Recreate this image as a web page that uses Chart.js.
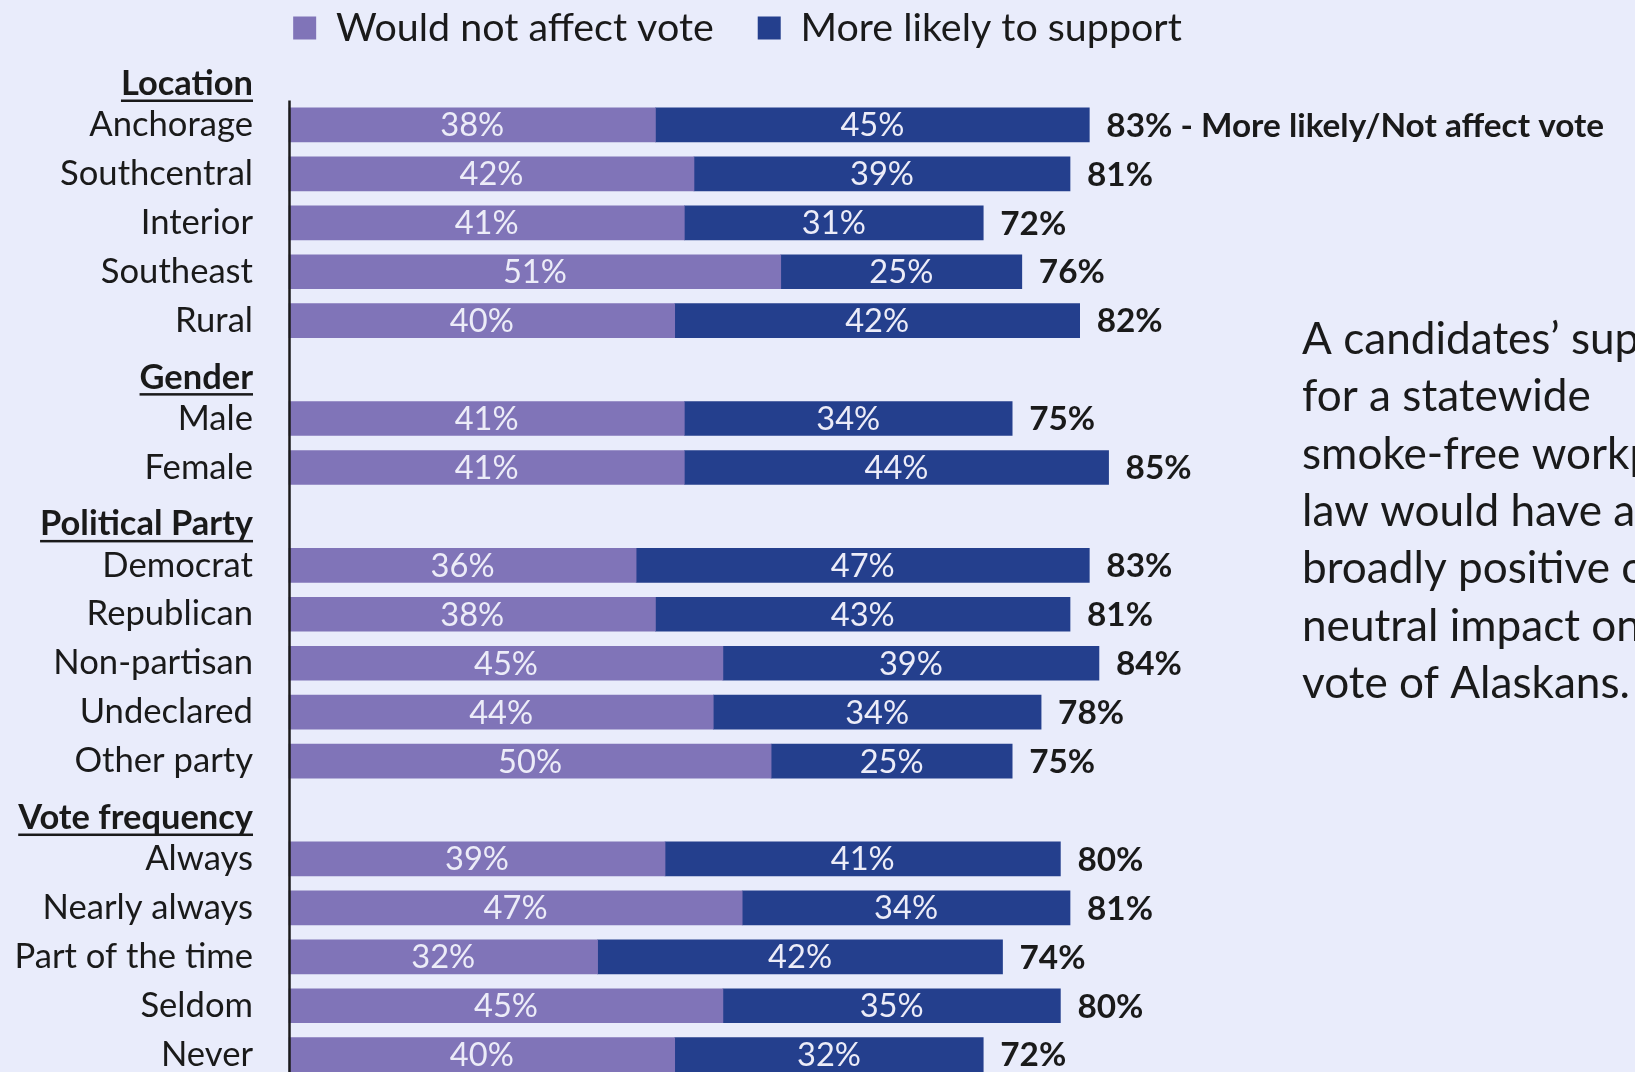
<!DOCTYPE html>
<html>
<head>
<meta charset="utf-8">
<script src="https://cdn.jsdelivr.net/npm/chart.js@4.4.1/dist/chart.umd.min.js"></script>
<style>
  html, body { margin: 0; padding: 0; background: #E9ECFB; overflow: hidden; }
  #wrap { position: relative; width: 1635px; height: 1072px; }
</style>
</head>
<body>
<div id="wrap"><canvas id="c"></canvas></div>
<script>
// ---- data ----
const categories = ['Location', 'Anchorage', 'Southcentral', 'Interior', 'Southeast', 'Rural',
  'Gender', 'Male', 'Female',
  'Political Party', 'Democrat', 'Republican', 'Non-partisan', 'Undeclared', 'Other party',
  'Vote frequency', 'Always', 'Nearly always', 'Part of the time', 'Seldom', 'Never'];
const groupHeaders = ['Location', 'Gender', 'Political Party', 'Vote frequency'];
const wouldNotAffect = [null, 38, 42, 41, 51, 40, null, 41, 41, null, 36, 38, 45, 44, 50, null, 39, 47, 32, 45, 40];
const moreLikely     = [null, 45, 39, 31, 25, 42, null, 34, 44, null, 47, 43, 39, 34, 25, null, 41, 34, 42, 35, 32];
const totals         = [null, 83, 81, 72, 76, 82, null, 75, 85, null, 83, 81, 84, 78, 75, null, 80, 81, 74, 80, 72];
const seriesNames = ['Would not affect vote', 'More likely to support'];
const firstTotalNote = ' - More likely/Not affect vote';
const sideText = ['A candidates\u2019 support', 'for a statewide', 'smoke-free workplace',
  'law would have a', 'broadly positive or', 'neutral impact on the', 'vote of Alaskans.'];
const xMax = 123;

// ---- styling ----
const FAMILY = 'Lato';
const COL_LIGHT = '#8074B8';
const COL_DARK = '#243F8D';
const TEXT = '#1a1a1a';

const mctx = document.createElement('canvas').getContext('2d');
function fit(text, weight, target) {
  mctx.font = weight + ' 100px ' + FAMILY;
  return 100 * target / mctx.measureText(text).width;
}
const tickSize   = fit('Southcentral', 'normal', 193);
const headSize   = fit('Political Party', 'bold', 213);
const legendSize = fit('Would not affect vote', 'normal', 378);
const innerSize  = fit('38%', 'normal', 64);
const totalSize  = fit('85%', 'bold', 66);
const sideSize   = fit('vote of Alaskans.', 'normal', 328);

const LEG_PAD = 44;
const padTop = 28 - LEG_PAD - legendSize / 2;
const topAxisH = 38 - legendSize / 2;

const overlay = {
  id: 'overlay',
  afterDatasetsDraw(chart) {
    const { ctx, chartArea, scales: { y } } = chart;
    ctx.save();
    // inner segment labels
    ctx.textAlign = 'center';
    ctx.textBaseline = 'middle';
    ctx.fillStyle = '#ECECF8';
    ctx.font = 'normal ' + innerSize + 'px ' + FAMILY;
    chart.data.datasets.forEach((ds, di) => {
      const meta = chart.getDatasetMeta(di);
      meta.data.forEach((bar, i) => {
        const v = ds.data[i];
        if (v === null || v === undefined) return;
        ctx.fillText(v + '%', (bar.base + bar.x) / 2, bar.y + 1);
      });
    });
    // totals
    ctx.textAlign = 'left';
    ctx.fillStyle = TEXT;
    ctx.font = 'bold ' + totalSize + 'px ' + FAMILY;
    const lastMeta = chart.getDatasetMeta(chart.data.datasets.length - 1);
    lastMeta.data.forEach((bar, i) => {
      if (totals[i] === null) return;
      let s = totals[i] + '%';
      if (i === 1) s += firstTotalNote;
      ctx.fillText(s, bar.x + 17, bar.y + 1);
    });
    // axis line
    ctx.strokeStyle = '#1b1b1b';
    ctx.lineWidth = 2.5;
    ctx.beginPath();
    ctx.moveTo(chartArea.left + 0.5, y.getPixelForValue(0.5));
    ctx.lineTo(chartArea.left + 0.5, chart.height);
    ctx.stroke();
    // group headers (bold, underlined)
    ctx.font = 'bold ' + headSize + 'px ' + FAMILY;
    ctx.textAlign = 'right';
    ctx.textBaseline = 'alphabetic';
    ctx.fillStyle = TEXT;
    const hx = chartArea.left - 36;
    categories.forEach((c, i) => {
      if (!groupHeaders.includes(c)) return;
      const by = y.getPixelForValue(i) + 19;
      ctx.fillText(c, hx, by);
      const w = ctx.measureText(c).width;
      ctx.fillRect(hx - w, by + 4.5, w, 2.5);
    });
    // side note
    ctx.font = 'normal ' + sideSize + 'px ' + FAMILY;
    ctx.textAlign = 'left';
    sideText.forEach((line, k) => {
      ctx.fillText(line, 1302, 354 + k * 57.3);
    });
    ctx.restore();
  }
};

new Chart(document.getElementById('c'), {
  type: 'bar',
  data: {
    labels: categories,
    datasets: [
      { label: seriesNames[0], data: wouldNotAffect, backgroundColor: COL_LIGHT, borderWidth: 0, barThickness: 34, clip: false },
      { label: seriesNames[1], data: moreLikely, backgroundColor: COL_DARK, borderWidth: 0, barThickness: 34, clip: false }
    ]
  },
  options: {
    indexAxis: 'y',
    responsive: true,
    maintainAspectRatio: false,
    animation: false,
    events: [],
    layout: { padding: { top: padTop, right: 160, bottom: 17, left: 0 } },
    plugins: {
      tooltip: { enabled: false },
      legend: {
        position: 'top',
        align: 'center',
        labels: {
          boxWidth: 23, boxHeight: 23, padding: LEG_PAD, color: TEXT,
          font: { family: FAMILY, size: legendSize }
        }
      }
    },
    scales: {
      x: {
        position: 'top', stacked: true, min: 0, max: xMax,
        ticks: { display: false },
        grid: { display: false, drawTicks: false },
        border: { display: false },
        afterFit(s) { s.height = topAxisH; }
      },
      y: {
        stacked: true, offset: false,
        grid: { display: true, drawOnChartArea: false, drawTicks: true, tickLength: 36, color: 'rgba(0,0,0,0)', offset: false },
        border: { display: false },
        ticks: {
          autoSkip: false, padding: 0, color: TEXT,
          font: { family: FAMILY, size: tickSize, lineHeight: 1 },
          callback(v, i) { const c = categories[i]; return groupHeaders.includes(c) ? '' : c; }
        },
        afterFit(s) { s.width = 289; }
      }
    }
  },
  plugins: [overlay]
});
</script>
</body>
</html>
